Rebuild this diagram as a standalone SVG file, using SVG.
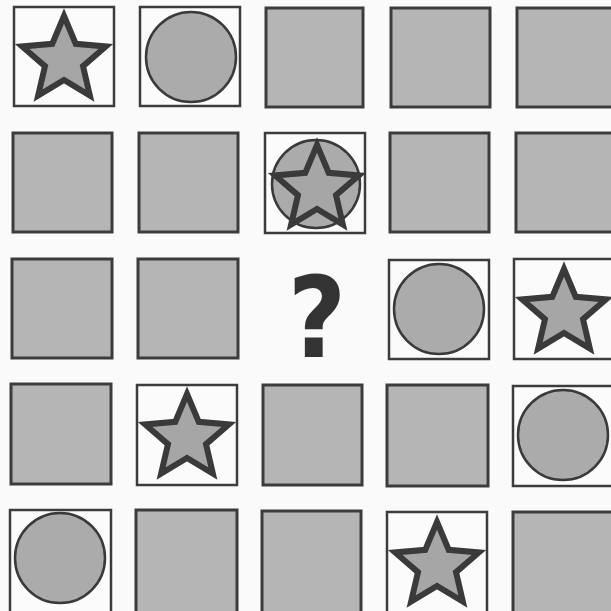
<svg xmlns="http://www.w3.org/2000/svg" xmlns:xlink="http://www.w3.org/1999/xlink" width="611" height="611" viewBox="0 0 611 611">
<defs>
<style>
.sq{fill:#b5b5b5;stroke:#3c3c3c;stroke-width:3}
.wc{fill:#fbfbfb;stroke:#3c3c3c;stroke-width:2.5}
.ci{fill:#ababab;stroke:#3a3a3a;stroke-width:2.5}
.st{fill:#a6a6a6;stroke:#3a3a3a;stroke-width:6;stroke-linejoin:miter}
.q{font-family:"DejaVu Sans Condensed","DejaVu Sans",sans-serif;font-stretch:condensed;font-weight:bold;font-size:112px;fill:#333333}
</style>
<path id="star" d="M0,-44 L11.76,-16.18 L41.85,-13.6 L19.02,6.18 L25.86,35.6 L0,20 L-25.86,35.6 L-19.02,6.18 L-41.85,-13.6 L-11.76,-16.18 Z"/>
</defs>
<rect width="611" height="611" fill="#fafafa"/>
<g id="connectors"></g>
<g id="r0c0"><rect class="wc" x="14" y="7" width="100" height="99"/><use xlink:href="#star" class="st" x="64" y="60"/></g>
<g id="r0c1"><rect class="wc" x="140" y="7" width="100" height="99"/><circle class="ci" cx="191" cy="57" r="45"/></g>
<g id="r0c2"><rect class="sq" x="266" y="8" width="97" height="99"/></g>
<g id="r0c3"><rect class="sq" x="391" y="8" width="99" height="99"/></g>
<g id="r0c4"><rect class="sq" x="517" y="8" width="99" height="99"/></g>
<g id="r1c0"><rect class="sq" x="13" y="133" width="99" height="99"/></g>
<g id="r1c1"><rect class="sq" x="139" y="133" width="99" height="99"/></g>
<g id="r1c2"><rect class="wc" x="265" y="133" width="100" height="100"/><circle class="ci" cx="316" cy="184" r="44"/><use xlink:href="#star" class="st" x="317" y="189"/></g>
<g id="r1c3"><rect class="sq" x="390" y="133" width="99" height="99"/></g>
<g id="r1c4"><rect class="sq" x="516" y="133" width="99" height="99"/></g>
<g id="r2c0"><rect class="sq" x="12" y="259" width="100" height="99"/></g>
<g id="r2c1"><rect class="sq" x="138" y="259" width="100" height="99"/></g>
<g id="r2c2"><text class="q" x="317" y="357" text-anchor="middle">?</text></g>
<g id="r2c3"><rect class="wc" x="389" y="260" width="100" height="99"/><circle class="ci" cx="439" cy="309" r="45"/></g>
<g id="r2c4"><rect class="wc" x="514" y="259" width="100" height="100"/><use xlink:href="#star" class="st" x="564" y="313"/></g>
<g id="r3c0"><rect class="sq" x="11" y="384" width="100" height="100"/></g>
<g id="r3c1"><rect class="wc" x="137" y="385" width="100" height="100"/><use xlink:href="#star" class="st" x="187" y="438"/></g>
<g id="r3c2"><rect class="sq" x="263" y="385" width="99" height="100"/></g>
<g id="r3c3"><rect class="sq" x="387" y="385" width="101" height="101"/></g>
<g id="r3c4"><rect class="wc" x="513" y="386" width="101" height="100"/><circle class="ci" cx="563" cy="435" r="45"/></g>
<g id="r4c0"><rect class="wc" x="10" y="510" width="101" height="104"/><circle class="ci" cx="60" cy="558" r="45"/></g>
<g id="r4c1"><rect class="sq" x="136" y="510" width="101" height="104"/></g>
<g id="r4c2"><rect class="sq" x="262" y="511" width="99" height="103"/></g>
<g id="r4c3"><rect class="wc" x="387" y="512" width="100" height="102"/><use xlink:href="#star" class="st" x="437" y="566"/></g>
<g id="r4c4"><rect class="sq" x="513" y="512" width="101" height="102"/></g>
</svg>
